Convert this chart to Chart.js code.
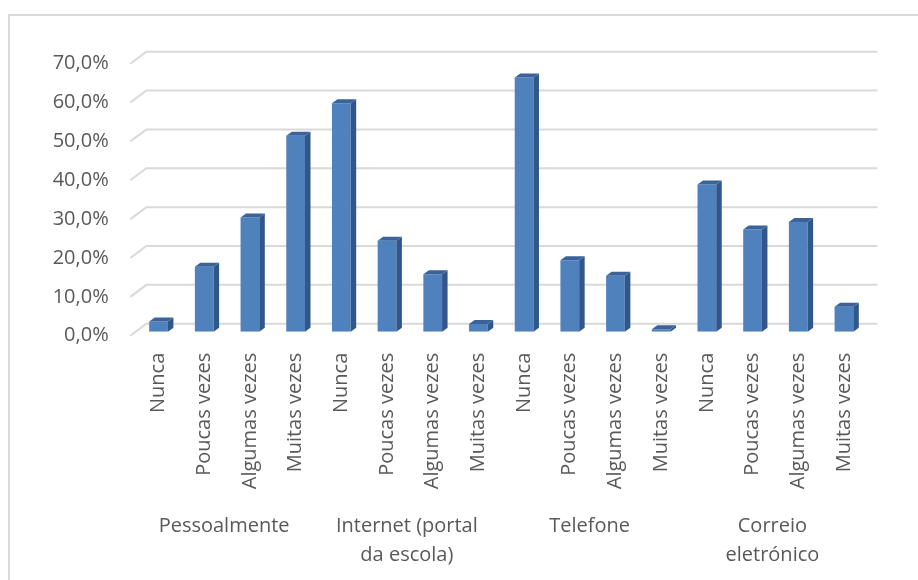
<!DOCTYPE html>
<html lang="pt">
<head>
    <meta charset="UTF-8">
    <title>Contacto com a escola</title>
    <script src="https://cdn.jsdelivr.net/npm/chart.js"></script>
    <style>
        body { margin: 0; background: #fff; }
    </style>
</head>
<body>
    <canvas id="contactChart" width="918" height="580"></canvas>

    <script>
        // Frequências por meio de contacto (%)
        const groups = ['Pessoalmente', ['Internet (portal', 'da escola)'], 'Telefone', ['Correio', 'eletrónico']];
        const answers = ['Nunca', 'Poucas vezes', 'Algumas vezes', 'Muitas vezes'];
        const pessoalmente = [2.6, 16.7, 29.4, 50.4];
        const internet = [58.8, 23.4, 14.8, 2.0];
        const telefone = [65.4, 18.4, 14.4, 0.6];
        const correio = [37.9, 26.3, 28.2, 6.4];
        const yTicks = [0, 10, 20, 30, 40, 50, 60, 70];

        const seriesByGroup = [pessoalmente, internet, telefone, correio];
        const labels = [];
        const values = [];
        seriesByGroup.forEach(function (serie) {
            serie.forEach(function (v, i) {
                labels.push(answers[i]);
                values.push(v);
            });
        });

        const textColor = '#595959';
        const gridColor = '#d9d9d9';
        // profundidade da "caixa" 3D: frente -> fundo
        const depthX = 16, depthY = 12;
        const barDx = 5.5, barDy = 4;

        const fmt = v => v.toFixed(1).replace('.', ',') + '%';

        // moldura exterior
        const framePlugin = {
            id: 'frame',
            beforeDraw(chart) {
                const ctx = chart.ctx;
                ctx.save();
                ctx.strokeStyle = gridColor;
                ctx.lineWidth = 2;
                ctx.strokeRect(9, 15, 1000, 1000);
                ctx.restore();
            }
        };

        // linhas de grelha na parede do fundo, com a diagonal de profundidade à esquerda
        const gridPlugin = {
            id: 'grid3d',
            beforeDatasetsDraw(chart) {
                const ctx = chart.ctx;
                const y = chart.scales.y;
                const area = chart.chartArea;
                const fx = depthX / 3, fy = depthY / 3;
                ctx.save();
                ctx.strokeStyle = gridColor;
                ctx.lineWidth = 2;
                yTicks.forEach(function (t) {
                    const py = y.getPixelForValue(t);
                    ctx.beginPath();
                    ctx.moveTo(area.left - fx, py + fy);
                    ctx.lineTo(area.left - fx + depthX, py + fy - depthY);
                    ctx.lineTo(area.right - fx + depthX, py + fy - depthY);
                    ctx.stroke();
                });
                ctx.restore();
            }
        };

        // faces laterais e de topo das barras
        const bars3dPlugin = {
            id: 'bars3d',
            afterDatasetsDraw(chart) {
                const ctx = chart.ctx;
                const meta = chart.getDatasetMeta(0);
                ctx.save();
                meta.data.forEach(function (bar) {
                    const half = bar.width / 2;
                    const l = bar.x - half, r = bar.x + half;
                    // lateral
                    ctx.fillStyle = '#30568a';
                    ctx.beginPath();
                    ctx.moveTo(r, bar.y);
                    ctx.lineTo(r + barDx, bar.y - barDy);
                    ctx.lineTo(r + barDx, bar.base - barDy);
                    ctx.lineTo(r, bar.base);
                    ctx.closePath();
                    ctx.fill();
                    // topo
                    ctx.fillStyle = '#3a6399';
                    ctx.beginPath();
                    ctx.moveTo(l, bar.y);
                    ctx.lineTo(l + barDx, bar.y - barDy);
                    ctx.lineTo(r + barDx, bar.y - barDy);
                    ctx.lineTo(r, bar.y);
                    ctx.closePath();
                    ctx.fill();
                });
                ctx.restore();
            }
        };

        // rótulos dos grupos por baixo das categorias
        const groupLabelsPlugin = {
            id: 'groupLabels',
            afterDraw(chart) {
                const ctx = chart.ctx;
                const x = chart.scales.x;
                const n = answers.length;
                ctx.save();
                ctx.fillStyle = textColor;
                ctx.font = "20px 'Open Sans', sans-serif";
                ctx.textAlign = 'center';
                ctx.textBaseline = 'middle';
                groups.forEach(function (g, gi) {
                    const first = x.getPixelForValue(gi * n);
                    const last = x.getPixelForValue(gi * n + n - 1);
                    const cx = (first + last) / 2 - 3;
                    const lines = Array.isArray(g) ? g : [g];
                    lines.forEach(function (line, li) {
                        ctx.fillText(line, cx, chart.chartArea.bottom + 195 + li * 29);
                    });
                });
                ctx.restore();
            }
        };

        Chart.defaults.font.family = "'Open Sans', sans-serif";
        Chart.defaults.font.size = 20;
        Chart.defaults.color = textColor;

        new Chart(document.getElementById('contactChart'), {
            type: 'bar',
            data: {
                labels: labels,
                datasets: [{
                    data: values,
                    backgroundColor: '#4f81bd',
                    borderWidth: 0,
                    barPercentage: 0.41,
                    categoryPercentage: 1
                }]
            },
            options: {
                responsive: false,
                animation: false,
                layout: { padding: { top: 59.7, right: 51.2, left: 0, bottom: 0 } },
                plugins: {
                    legend: { display: false },
                    tooltip: { enabled: false }
                },
                scales: {
                    x: {
                        grid: { display: false, drawTicks: false },
                        border: { display: false },
                        ticks: {
                            autoSkip: false,
                            minRotation: 90,
                            maxRotation: 90,
                            padding: 21,
                            color: textColor
                        },
                        afterFit: s => { s.height = 248.3; }
                    },
                    y: {
                        min: 0,
                        max: 70,
                        grid: { display: false, drawTicks: false },
                        border: { display: false },
                        ticks: {
                            stepSize: 10,
                            padding: 27,
                            labelOffset: 4,
                            color: textColor,
                            callback: v => fmt(v)
                        },
                        afterFit: s => { s.width = 135.7; }
                    }
                }
            },
            plugins: [framePlugin, gridPlugin, bars3dPlugin, groupLabelsPlugin]
        });
    </script>
</body>
</html>
